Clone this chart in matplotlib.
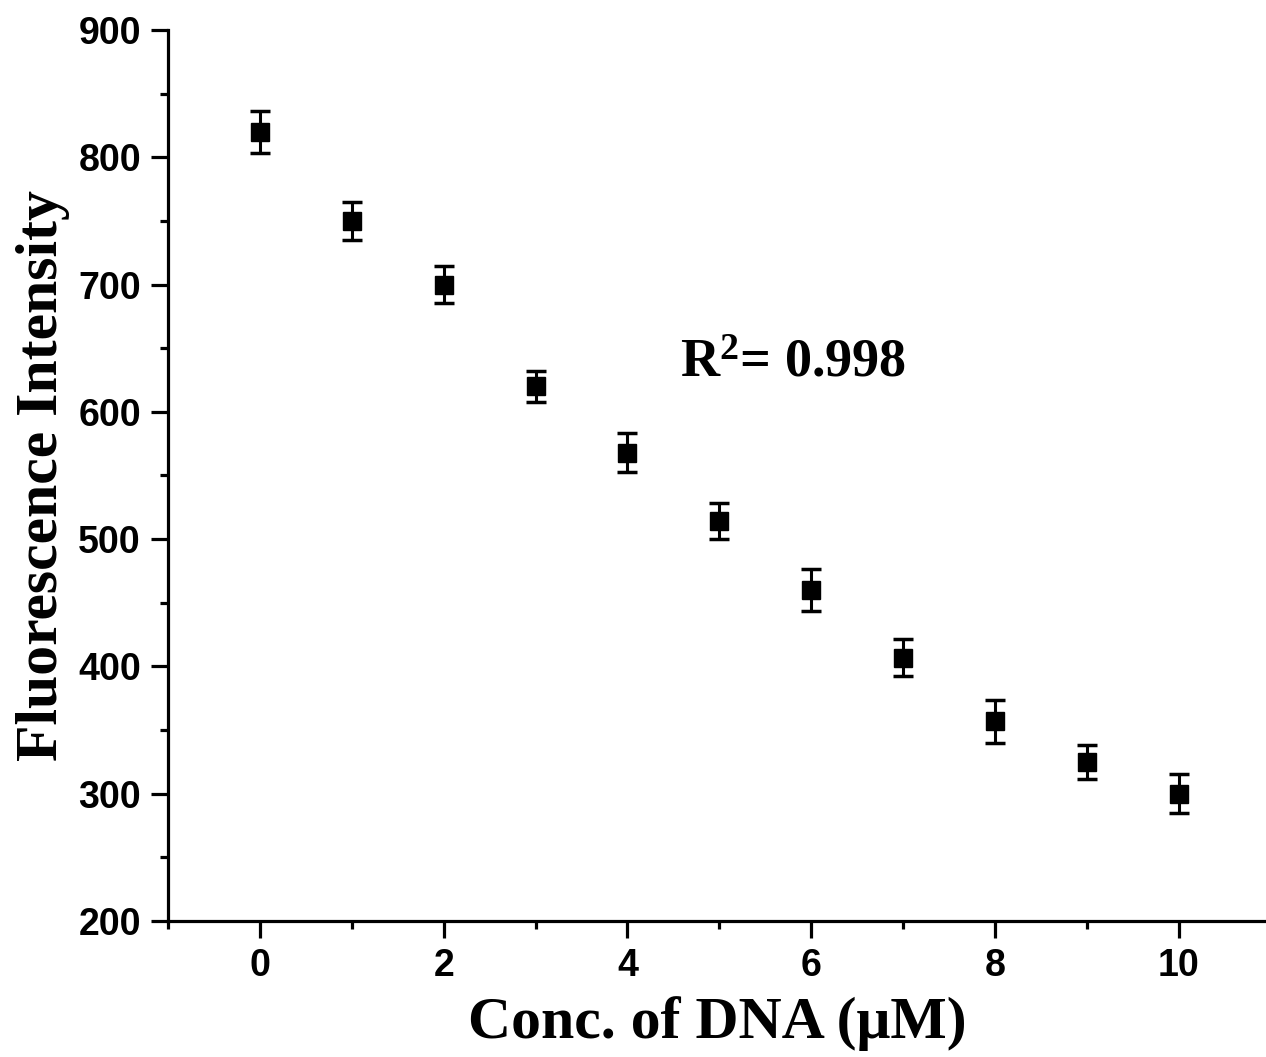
import matplotlib
matplotlib.use("Agg")
import matplotlib.pyplot as plt
from matplotlib.ticker import MultipleLocator

conc = [0, 1, 2, 3, 4, 5, 6, 7, 8, 9, 10]
intensity = [820, 750, 700, 620, 568, 514, 460, 407, 357, 325, 300]
errors = [16.5, 15.2, 14.3, 12.4, 15.3, 14.1, 16.2, 14.8, 16.9, 13.6, 15.1]
xticks = [0, 2, 4, 6, 8, 10]
yticks = [200, 300, 400, 500, 600, 700, 800, 900]
annotation = r"R$^{2}$= 0.998"

plt.rcParams['mathtext.fontset'] = 'custom'
plt.rcParams['mathtext.rm'] = 'Liberation Serif:bold'
plt.rcParams['mathtext.bf'] = 'Liberation Serif:bold'
plt.rcParams['mathtext.it'] = 'Liberation Serif:bold'
plt.rcParams['mathtext.default'] = 'rm'

fig = plt.figure(figsize=(12.66, 10.57), dpi=100)
ax = fig.add_axes([168/1266, 1-921/1057, 1-168/1266, (921-30)/1057])

ax.errorbar(conc, intensity, yerr=errors, fmt='s', color='black',
            markersize=13.5, ecolor='black', elinewidth=2.2,
            capsize=7.5, capthick=2.5, zorder=3)

ax.set_xlim(-1, 10.95)
ax.set_ylim(200, 900)
ax.set_xticks(xticks)
ax.set_yticks(yticks)
ax.xaxis.set_minor_locator(MultipleLocator(1))
ax.yaxis.set_minor_locator(MultipleLocator(50))

for s in ['top', 'right']:
    ax.spines[s].set_visible(False)
for s in ['left', 'bottom']:
    ax.spines[s].set_linewidth(2.3)

ax.tick_params(which='major', direction='out', length=12.5, width=2.3, pad=7)
ax.tick_params(which='minor', direction='out', length=6, width=2.3)
for lab in ax.get_xticklabels() + ax.get_yticklabels():
    lab.set_fontfamily('Liberation Sans')
    lab.set_fontweight('bold')
    lab.set_fontsize(27)

ax.set_xlabel('Conc. of DNA (μM)', fontfamily='Liberation Serif',
              fontweight='bold', fontsize=43, labelpad=9)
ax.set_ylabel('Fluorescence Intensity', fontfamily='Liberation Serif',
              fontweight='bold', fontsize=43, labelpad=6)

ax.text(4.57, 638, annotation, fontfamily='Liberation Serif',
        fontweight='bold', fontsize=39, ha='left', va='center')

fig.savefig('out.png', dpi=100)
